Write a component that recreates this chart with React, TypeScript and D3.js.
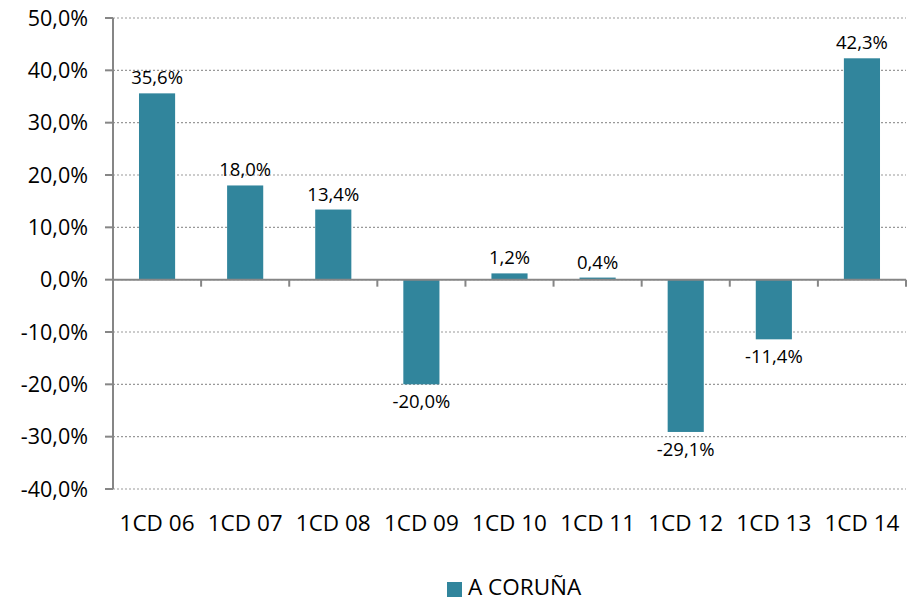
import React from "react";
import * as d3 from "d3";

const categories = ["1CD 06", "1CD 07", "1CD 08", "1CD 09", "1CD 10", "1CD 11", "1CD 12", "1CD 13", "1CD 14"];
const values = [35.6, 18.0, 13.4, -20.0, 1.2, 0.4, -29.1, -11.4, 42.3];
const yTicks = [50, 40, 30, 20, 10, 0, -10, -20, -30, -40];
const seriesName = "A CORUÑA";

const W = 907, H = 601;
const left = 113, right = 906, top = 18, bottom = 489;
const color = "#31859C";
const font = "'Open Sans', sans-serif";

const fmt = (v: number) => v.toFixed(1).replace(".", ",") + "%";

export default function App() {
  const y = d3.scaleLinear().domain([-40, 50]).range([bottom, top]);
  const x = d3.scaleBand().domain(categories).range([left, right]).paddingInner(0.59).paddingOuter(0.295);
  const y0 = y(0);
  const step = (right - left) / categories.length;
  return (
    <svg width={W} height={H} style={{ position: "absolute", left: 0, top: 0, background: "#fff" }}>
      {yTicks.map((t) => (
        <g key={t}>
          <line x1={left} x2={right} y1={y(t)} y2={y(t)} stroke="#999" strokeWidth={1.2} strokeDasharray="2,2" />
          <line x1={left - 8} x2={left} y1={y(t)} y2={y(t)} stroke="#868686" strokeWidth={2} />
          <text x={left - 25} y={y(t)} dy="0.36em" textAnchor="end" fontFamily={font} fontSize={21.5} fill="#000">
            {fmt(t)}
          </text>
        </g>
      ))}
      {categories.map((c, i) => {
        const v = values[i];
        const bx = x(c)!;
        const bw = x.bandwidth();
        const yt = Math.min(y(v), y0);
        const h = Math.abs(y(v) - y0);
        const ly = v >= 0 ? y(v) - 9 : y(v) + 24;
        return (
          <g key={c}>
            <rect x={bx} y={yt} width={bw} height={h} fill={color} />
            <text x={bx + bw / 2} y={ly} textAnchor="middle" fontFamily={font} fontSize={18.5} fill="#000">
              {fmt(v)}
            </text>
            <text x={left + step * (i + 0.5)} y={531} textAnchor="middle" fontFamily={font} fontSize={22.5} fill="#000">
              {c}
            </text>
          </g>
        );
      })}
      {categories.map((c, i) => (
        <line key={"t" + c} x1={left + step * (i + 1)} x2={left + step * (i + 1)} y1={y0} y2={y0 + 7} stroke="#868686" strokeWidth={2} />
      ))}
      <line x1={left} x2={right} y1={y0} y2={y0} stroke="#868686" strokeWidth={2} />
      <line x1={left} x2={left} y1={top} y2={bottom} stroke="#868686" strokeWidth={2} />
      <rect x={447} y={582} width={15} height={15} fill={color} />
      <text x={468} y={595} fontFamily={font} fontSize={22.5} fill="#000">{seriesName}</text>
    </svg>
  );
}
